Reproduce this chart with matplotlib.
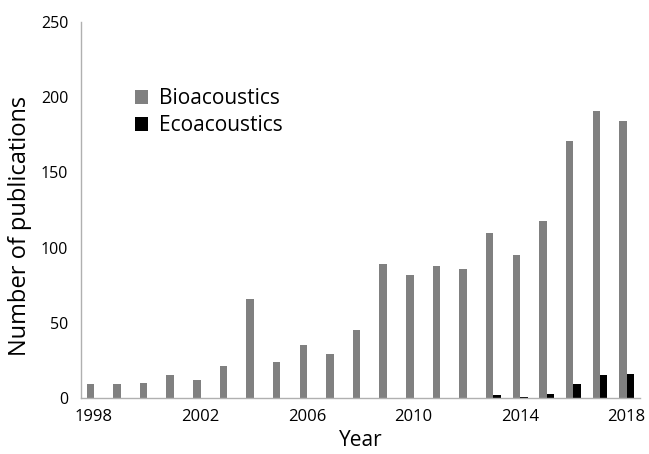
import matplotlib
matplotlib.use("Agg")
import matplotlib.pyplot as plt
import numpy as np

plt.rcParams['font.family'] = ['Open Sans', 'DejaVu Sans']

years = list(range(1998, 2019))
bioacoustics = [9, 9, 10, 15, 12, 21, 66, 24, 35, 29, 45, 89, 82, 88, 86, 110, 95, 118, 171, 191, 184]
ecoacoustics = [0, 0, 0, 0, 0, 0, 0, 0, 0, 0, 0, 0, 0, 0, 0, 2, 1, 3, 9, 15, 16]
tick_years = [1998, 2002, 2006, 2010, 2014, 2018]
yticks = [0, 50, 100, 150, 200, 250]

W, H = 649, 454
fig = plt.figure(figsize=(W / 100, H / 100), dpi=100)
ax = fig.add_axes([0.1243, 0.1233, 0.8617, 0.8282])

x = np.arange(len(years))
w = 0.28
ax.bar(x - w / 2, bioacoustics, width=w, color='#808080', label='Bioacoustics')
ax.bar(x + w / 2, ecoacoustics, width=w, color='#000000', label='Ecoacoustics')

ax.set_xlim(-0.5, len(years) - 0.5)
ax.set_ylim(0, 250)
ax.set_yticks(yticks)
ax.set_yticklabels([str(t) for t in yticks], fontsize=11.5)
ax.set_xticks([years.index(y) for y in tick_years])
ax.set_xticklabels([str(y) for y in tick_years], fontsize=12)
ax.tick_params(axis='y', length=0, pad=9)
ax.tick_params(axis='x', length=0, pad=8)

for s in ['top', 'right']:
    ax.spines[s].set_visible(False)
for s in ['left', 'bottom']:
    ax.spines[s].set_color('#b0b0b0')
    ax.spines[s].set_linewidth(1.0)

fig.text(20 / W, 1 - 226 / H, 'Number of publications', fontsize=17,
         rotation=90, ha='center', va='center')
fig.text(361 / W, 1 - 440 / H, 'Year', fontsize=15, ha='center', va='center')

ax.legend(loc='upper left', bbox_to_anchor=(0.082, 0.847), frameon=False,
          fontsize=15, handlelength=0.65, handleheight=0.65, handletextpad=0.5,
          labelspacing=0.3, borderaxespad=0)

fig.savefig('out.png', dpi=100)
